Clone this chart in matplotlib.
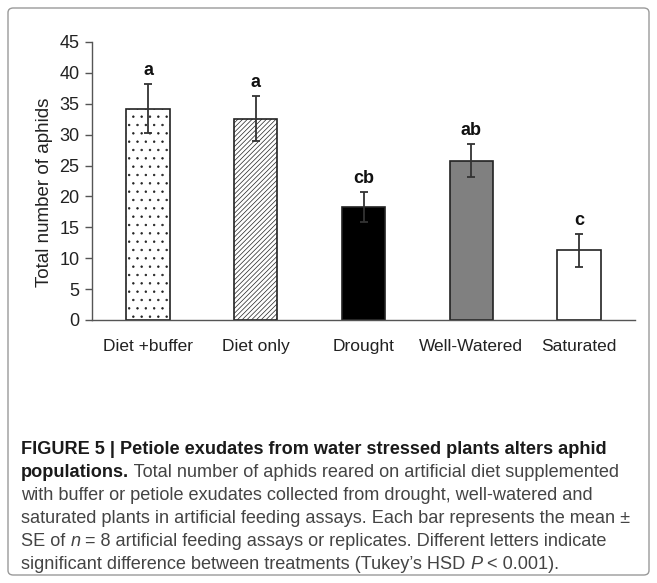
import matplotlib
matplotlib.use("Agg")
import matplotlib.pyplot as plt
from matplotlib.patches import FancyBboxPatch

treatments = ["Diet +buffer", "Diet only", "Drought", "Well-Watered", "Saturated"]
mean_aphids = [34.2, 32.6, 18.3, 25.8, 11.3]
se_aphids = [4.0, 3.6, 2.4, 2.7, 2.7]
letters = ["a", "a", "cb", "ab", "c"]
y_ticks = [0, 5, 10, 15, 20, 25, 30, 35, 40, 45]

caption_lines = [
    [("FIGURE 5 | Petiole exudates from water stressed plants alters aphid", "bold")],
    [("populations.", "bold"), (" Total number of aphids reared on artificial diet supplemented", "normal")],
    [("with buffer or petiole exudates collected from drought, well-watered and", "normal")],
    [("saturated plants in artificial feeding assays. Each bar represents the mean \u00b1", "normal")],
    [("SE of ", "normal"), ("n", "italic"), (" = 8 artificial feeding assays or replicates. Different letters indicate", "normal")],
    [("significant difference between treatments (Tukey\u2019s HSD ", "normal"), ("P", "italic"), (" < 0.001).", "normal")],
]

plt.rcParams["font.family"] = ["Liberation Sans", "DejaVu Sans"]
plt.rcParams["hatch.linewidth"] = 0.5
plt.rcParams["hatch.color"] = "#333333"

W, H = 657, 583
fig = plt.figure(figsize=(W / 100, H / 100), dpi=100)

# rounded frame round the whole panel
frame = FancyBboxPatch((8 / W, 8 / H), (W - 16) / W, (H - 16) / H,
                       boxstyle="round,pad=0,rounding_size=0.008",
                       transform=fig.transFigure, fill=False,
                       edgecolor="#9a9a9a", linewidth=1.0)
fig.patches.append(frame)

ax = fig.add_axes([92 / W, 1 - 320 / H, (635 - 92) / W, (320 - 42) / H])

x = list(range(len(treatments)))
faces = ["white", "white", "black", "#808080", "white"]
hatches = ["..", "///////", None, None, None]
bars = ax.bar(x, mean_aphids, width=0.4, color=faces, edgecolor="#222222",
              linewidth=1.2, zorder=2)
for b, h in zip(bars, hatches):
    if h:
        b.set_hatch(h)
ax.errorbar(x, mean_aphids, yerr=se_aphids, fmt="none", ecolor="#333333",
            elinewidth=1.3, capsize=3, capthick=1.3, zorder=3)
for xi, m, s, lab in zip(x, mean_aphids, se_aphids, letters):
    ax.text(xi, m + s + 0.8, lab, ha="center", va="bottom",
            fontsize=13, fontweight="bold", color="#111111")

ax.set_xlim(-0.52, 4.52)
ax.set_ylim(0, 45)
ax.set_yticks(y_ticks)
ax.set_xticks(x)
ax.set_xticklabels(treatments)
for s in ["top", "right"]:
    ax.spines[s].set_visible(False)
for s in ["left", "bottom"]:
    ax.spines[s].set_color("#555555")
    ax.spines[s].set_linewidth(1.0)
ax.tick_params(axis="y", length=5, width=1.0, color="#555555",
               labelsize=13, labelcolor="#222222", pad=4)
ax.tick_params(axis="x", length=0, labelsize=12.5, labelcolor="#222222", pad=14)
ax.set_ylabel("Total number of aphids", fontsize=13.5, color="#222222")
ax.yaxis.set_label_coords(-0.072, 0.46)

# caption, run by run
renderer = fig.canvas.get_renderer()
y0 = 449
line_gap = 23
for i, runs in enumerate(caption_lines):
    xpix = 21
    ypix = y0 + i * line_gap
    for txt, style in runs:
        kw = dict(fontsize=13.1, va="baseline", ha="left", transform=None)
        if style == "bold":
            kw.update(fontweight="bold", color="#1a1a1a")
        elif style == "italic":
            kw.update(fontstyle="italic", color="#444444")
        else:
            kw.update(color="#444444")
        t = fig.text(xpix, H - ypix - 5, txt, **kw)
        xpix += t.get_window_extent(renderer).width

fig.savefig("out.png", dpi=100)
